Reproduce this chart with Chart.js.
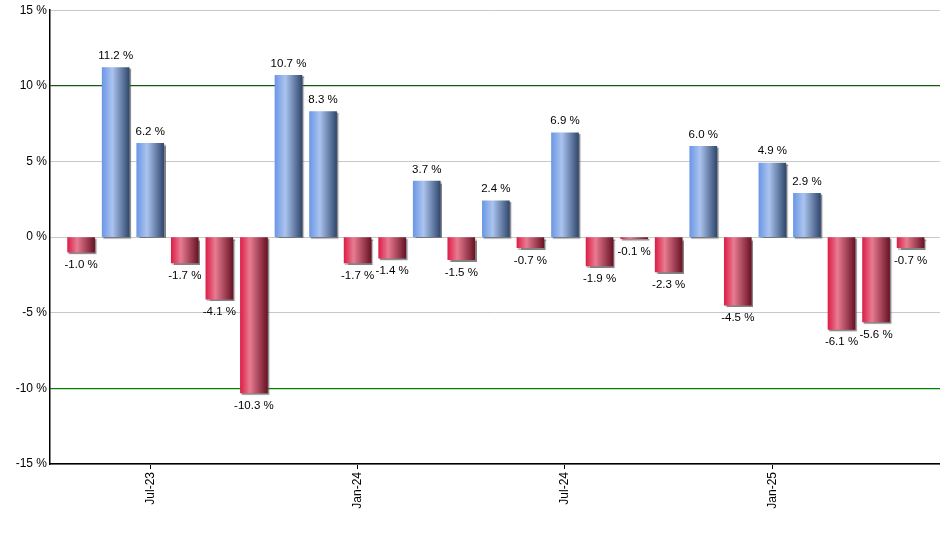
<!DOCTYPE html>
<html>
<head>
<meta charset="utf-8">
<script src="https://cdn.jsdelivr.net/npm/chart.js@4.4.1/dist/chart.umd.min.js"></script>
<style>
  html, body { margin: 0; padding: 0; background: #fff; }
  #grafica { display: block; }
</style>
</head>
<body>
<canvas id="grafica" width="940" height="550"></canvas>
<script>

// meses mostrados (may-23 .. may-25)
const meses = ['May-23', 'Jun-23', 'Jul-23', 'Aug-23', 'Sep-23', 'Oct-23', 'Nov-23', 'Dec-23',
    'Jan-24', 'Feb-24', 'Mar-24', 'Apr-24', 'May-24', 'Jun-24', 'Jul-24', 'Aug-24',
    'Sep-24', 'Oct-24', 'Nov-24', 'Dec-24', 'Jan-25', 'Feb-25', 'Mar-25', 'Apr-25', 'May-25']

const rendimientos = [-1.0, 11.2, 6.2, -1.7, -4.1, -10.3, 10.7, 8.3, -1.7, -1.4, 3.7, -1.5,
    2.4, -0.7, 6.9, -1.9, -0.1, -2.3, 6.0, -4.5, 4.9, 2.9, -6.1, -5.6, -0.7]

// solo se etiquetan julio y enero
const mesesEtiqueta = ['Jul-23', 'Jan-24', 'Jul-24', 'Jan-25']

const ticksY = [-15, -10, -5, 0, 5, 10, 15]

const fuente = '"Liberation Sans", Arial, sans-serif'
const anchoBarra = 27

const colorBarra = (ctx) => {
    const chart = ctx.chart
    const positivo = !ctx.parsed || ctx.parsed.y >= 0
    if (!chart.scales.x || !ctx.parsed) return positivo ? '#7a9ee0' : '#c0304c'
    const px = chart.scales.x.getPixelForValue(ctx.parsed.x)
    if (!Number.isFinite(px)) return positivo ? '#7a9ee0' : '#c0304c'
    const g = chart.ctx.createLinearGradient(px - anchoBarra / 2, 0, px + anchoBarra / 2, 0)
    if (positivo) {
        g.addColorStop(0, '#6c97e6')
        g.addColorStop(0.38, '#abc4ef')
        g.addColorStop(1, '#31496f')
    } else {
        g.addColorStop(0, '#dc1f48')
        g.addColorStop(0.35, '#e87b91')
        g.addColorStop(1, '#6a1326')
    }
    return g
}

const sombraYEtiquetas = {
    id: 'sombraYEtiquetas',
    beforeDatasetsDraw(chart) {
        const c = chart.ctx
        c.save()
        c.shadowColor = 'rgba(90,90,90,0.75)'
        c.shadowOffsetX = 1.5
        c.shadowOffsetY = 1.5
        c.shadowBlur = 1
    },
    afterDatasetsDraw(chart) {
        const c = chart.ctx
        c.restore()
        const meta = chart.getDatasetMeta(0)
        c.save()
        c.font = '11.5px ' + fuente
        c.fillStyle = '#000'
        c.textAlign = 'center'
        meta.data.forEach((bar, i) => {
            const v = rendimientos[i]
            const txt = v.toFixed(1) + ' %'
            if (v >= 0) {
                c.textBaseline = 'bottom'
                c.fillText(txt, bar.x, bar.y - 6)
            } else {
                c.textBaseline = 'top'
                c.fillText(txt, bar.x, bar.y + 7)
            }
        })
        c.restore()
    }
}

const printChart = () => {

    const datos = rendimientos.map((v, i) => ({ x: i, y: v }))

    new Chart('grafica', {
        type: 'bar',
        data: {
            datasets: [{
                data: datos,
                backgroundColor: colorBarra,
                borderWidth: 0,
                barThickness: anchoBarra
            }]
        },
        options: {
            responsive: false,
            animation: false,
            devicePixelRatio: 1,
            layout: { padding: { top: 9, right: 0, left: 0, bottom: 0 } },
            plugins: {
                legend: { display: false },
                tooltip: { enabled: false }
            },
            scales: {
                x: {
                    type: 'linear',
                    offset: false,
                    min: -0.9,
                    max: 24.85,
                    afterBuildTicks: (scale) => {
                        scale.ticks = mesesEtiqueta.map(m => ({ value: meses.indexOf(m) }))
                    },
                    afterFit: (scale) => { scale.height = 86 },
                    border: { display: true, color: '#000', width: 1.5 },
                    grid: { offset: false, drawOnChartArea: false, drawTicks: true, tickLength: 5, color: '#000' },
                    ticks: {
                        autoSkip: false,
                        minRotation: 90,
                        maxRotation: 90,
                        padding: 3,
                        color: '#000',
                        font: { family: fuente, size: 12 },
                        callback: (v) => meses[v]
                    }
                },
                y: {
                    min: -15,
                    max: 15,
                    afterBuildTicks: (scale) => {
                        scale.ticks = ticksY.map(v => ({ value: v }))
                    },
                    afterFit: (scale) => { scale.width = 50 },
                    border: { display: true, color: '#000', width: 1.5 },
                    grid: {
                        drawTicks: false,
                        color: (ctx) => {
                            const v = ctx.tick ? ctx.tick.value : null
                            if (v === 10) return '#0d5e0d'
                            if (v === -10) return '#008000'
                            return '#c8c8c8'
                        },
                        lineWidth: (ctx) => {
                            const v = ctx.tick ? ctx.tick.value : null
                            return (v === 10 || v === -10) ? 1.3 : 1
                        }
                    },
                    ticks: {
                        padding: 3,
                        color: '#000',
                        font: { family: fuente, size: 12 },
                        callback: (v) => v + ' %'
                    }
                }
            }
        },
        plugins: [sombraYEtiquetas]
    })
}

printChart()

</script>
</body>
</html>
